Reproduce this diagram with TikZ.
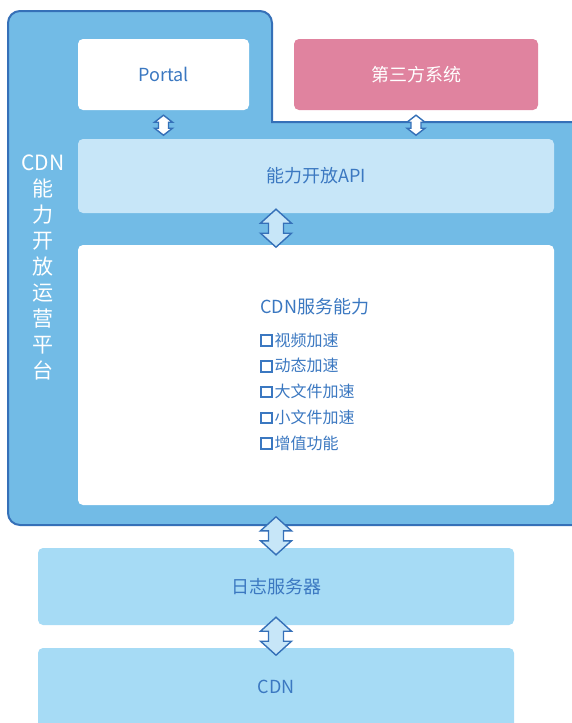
\documentclass[tikz,border=0pt]{standalone}
\usepackage{fontspec}
\setmainfont{Noto Sans CJK SC}
\usetikzlibrary{calc}
\definecolor{outerfill}{HTML}{72BBE6}
\definecolor{outerline}{HTML}{3570B8}
\definecolor{apifill}{HTML}{C7E6F8}
\definecolor{lowfill}{HTML}{A6DBF5}
\definecolor{pinkfill}{HTML}{E0839F}
\definecolor{txtblue}{HTML}{3B78C1}
\newcommand{\dblarrow}[6]{%
  \draw[arrowline, fill=#6] (#1) -- ++(#3,#5) -- ++({#4-#3},0) -- ++(0,{#2-2*#5})
    -- ++({#3-#4},0) -- ++({-#3},#5) -- ++({-#3},{-#5}) -- ++({#3-#4},0)
    -- ++(0,{-(#2-2*#5)}) -- ++({#4-#3},0) -- cycle;}
\newcommand{\chk}{\raisebox{1.3pt}{\setlength{\fboxsep}{0pt}\setlength{\fboxrule}{2.1pt}\fbox{\rule{0pt}{8.3pt}\rule{8.3pt}{0pt}}}\hspace{2pt}}
\tikzset{
  box/.style={draw=none, rounded corners=5, inner sep=0pt, text=txtblue},
  arrowline/.style={draw=outerline, line width=1.4pt, line join=miter},
  fs18/.style={font=\fontsize{18}{22}\selectfont},
}
\begin{document}
\begin{tikzpicture}[x=1pt,y=-1pt]
\useasboundingbox (0,0) rectangle (572,723);
\clip (0,0) rectangle (572,723);
% outer platform container
\draw[draw=outerline, line width=2pt, fill=outerfill]
  (272,122) -- (600,122) -- (600,525) -- (20,525)
  arc[start angle=90, end angle=180, radius=12] -- (8,23)
  arc[start angle=180, end angle=270, radius=12] -- (260,11)
  arc[start angle=270, end angle=360, radius=12] -- cycle;
\node[text=white, align=center, font=\fontsize{21}{26}\selectfont] (plat) at (43,267)
  {CDN\\能\\力\\开\\放\\运\\营\\平\\台};
% boxes
\node[box, fill=white, minimum width=171, minimum height=71, fs18] (portal) at (163.5,74.5) {Portal};
\node[box, fill=pinkfill, minimum width=244, minimum height=71, fs18, text=white] (third) at (416,74.5) {第三方系统};
\node[box, fill=apifill, minimum width=476, minimum height=74, fs18] (api) at (316,176) {能力开放API};
\node[box, fill=white, minimum width=476, minimum height=260] (svc) at (316,375) {};
\node[text=txtblue, anchor=west, inner sep=0pt, fs18] (svctitle) at (260,307) {CDN服务能力};
\node[text=txtblue, anchor=west, inner sep=0pt, align=left, font=\fontsize{16}{25.75}\selectfont] (svclist) at (260,391.5)
  {\chk 视频加速\\\chk 动态加速\\\chk 大文件加速\\\chk 小文件加速\\\chk 增值功能};
\node[box, fill=lowfill, minimum width=476, minimum height=77, fs18] (log) at (276,586.5) {日志服务器};
\node[box, fill=lowfill, minimum width=476, minimum height=82, fs18] (cdn) at (276,689) {};
\node[text=txtblue, fs18] (cdntxt) at (276,687) {CDN};
% connectors
\coordinate (a1) at ($(portal.south)+(0,5)$);
\coordinate (a2) at ($(third.south)+(0,5)$);
\coordinate (a3) at ($(api.south -| log.north)+(0,-4)$);
\coordinate (a4) at ($(log.north)+(0,-31)$);
\coordinate (a5) at ($(log.south)+(0,-8)$);
\dblarrow{a1}{20}{9}{5}{7}{white}
\dblarrow{a2}{20}{9}{5}{7}{white}
\dblarrow{a3}{38}{15.5}{7.5}{14}{apifill}
\dblarrow{a4}{38}{15.5}{7.5}{14}{apifill}
\dblarrow{a5}{38}{15.5}{7.5}{14}{apifill}
\end{tikzpicture}
\end{document}
